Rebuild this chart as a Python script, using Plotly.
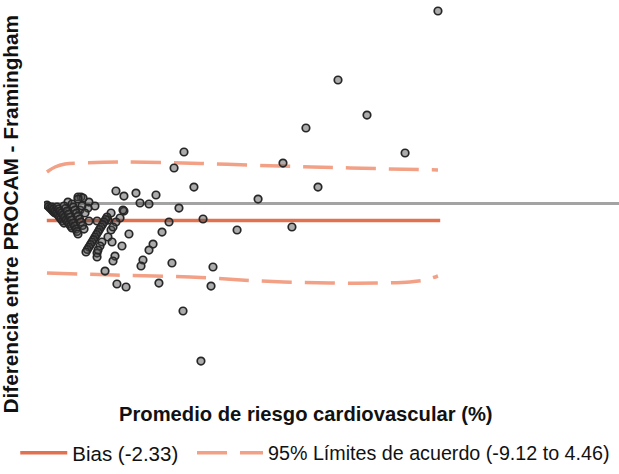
import plotly.graph_objects as go

# Scatter points: mean risk (%) vs difference PROCAM - Framingham
mean_risk = [
    28.14, 21.0, 23.07, 18.71, 25.79, 10.0, 9.29, 17.07, 10.71, 19.57,
    15.29, 9.64, 11.36, 13.79, 17.71, 8.93, 8.43, 9.14, 12.07, 11.93,
    8.21, 5.86, 5.21, 4.36, 5.14, 5.71, 6.57, 8.0, 6.86, 7.5,
    5.71, 5.43, 4.79, 3.79, 6.07, 5.57, 5.07, 4.93, 3.79, 7.79,
    7.5, 7.07, 6.93, 3.64, 3.21, 2.64, 1.71, 9.93, 11.21, 4.79,
    4.57, 4.86, 3.79, 2.43, 2.79, 3.14, 2.57, 4.57,
    0.21, 0.32, 0.43, 0.54, 0.64, 0.71, 0.79,
    0.57, 0.68, 0.79, 0.9, 1.0, 1.1, 1.21, 1.32, 1.43,
    0.93, 1.04, 1.14, 1.25, 1.36, 1.46, 1.57, 1.68, 1.79, 1.9, 2.0,
    1.43, 1.54, 1.64, 1.75, 1.86, 1.96, 2.07, 2.18, 2.29, 2.36, 2.43,
    2.0, 2.1, 2.21, 2.32, 2.43, 2.54, 2.64, 2.75, 2.86,
    2.43, 2.71, 2.93, 3.21,
    4.5, 4.4, 4.29, 4.18, 4.07, 3.96, 3.86, 3.75, 3.64, 3.54, 3.43, 3.32, 3.21, 3.1, 3.0,
    4.14, 4.0, 3.86,
    5.64, 5.14, 4.93,
]
difference = [
    25.6, 16.4, 11.73, 10.0, 6.67, 6.8, 4.67, 5.33, 2.13, 2.13,
    0.53, -0.67, -2.13, -3.6, -3.2, -2.53, -3.87, -8.0, -8.53, -11.07,
    -10.67, -11.2, -10.8, -9.07, 1.6, 0.93, 1.33, 1.07, 0.0, -0.13,
    -1.07, -2.0, -1.33, -2.4, -4.13, -5.73, -7.07, -7.73, -6.67, -5.47,
    -6.27, -7.6, -8.4, -0.4, 0.13, 0.8, 0.13, -14.4, -21.07, -3.6,
    -4.53, -5.2, -7.2, 0.8, 0.67, -0.67, -0.93, -2.27,
    -0.27, -0.47, -0.67, -0.87, -1.07, -1.2, -1.33,
    -0.53, -0.8, -1.07, -1.33, -1.6, -1.87, -2.13, -2.4, -2.67,
    -0.53, -0.8, -1.07, -1.33, -1.6, -1.93, -2.27, -2.53, -2.8, -3.07, -3.33,
    -0.4, -0.73, -1.07, -1.47, -1.87, -2.27, -2.67, -3.07, -3.47, -3.8, -4.13,
    -0.13, -0.53, -0.93, -1.33, -1.73, -2.13, -2.53, -3.0, -3.47,
    0.53, -0.4, -1.33, -2.4,
    -1.87, -2.2, -2.53, -2.87, -3.2, -3.53, -3.87, -4.2, -4.53, -4.87, -5.2, -5.53, -5.87, -6.2, -6.53,
    -5.2, -5.73, -6.27,
    -0.93, -2.53, -3.2,
]

# Bias line
bias_x = [0.2, 28.3]
bias_y = [-2.33, -2.33]

# Limits of agreement (as drawn, slightly curved)
upper_x = [0.21, 0.79, 1.5, 2.57, 5.43, 11.14, 16.86, 21.86, 28.14]
upper_y = [4.13, 4.8, 5.2, 5.33, 5.47, 5.27, 4.93, 4.67, 4.4]
lower_x = [0.21, 5.0, 10.43, 15.43, 20.43, 24.0, 26.14, 27.21, 28.14]
lower_y = [-9.33, -9.6, -9.87, -10.4, -10.67, -10.67, -10.53, -10.27, -9.73]

bias_label = "Bias (-2.33)"
loa_label = "95% Límites de acuerdo (-9.12 to 4.46)"
x_title = "Promedio de riesgo cardiovascular (%)"
y_title = "Diferencia entre PROCAM - Framingham"

BIAS_C = "#e2714f"
LOA_C = "#f2a186"
FONT = "Liberation Sans, Arial, sans-serif"

fig = go.Figure()
fig.add_trace(go.Scatter(
    x=bias_x, y=bias_y, mode="lines", name=bias_label, legend="legend",
    line=dict(color=BIAS_C, width=3.5),
))
fig.add_trace(go.Scatter(
    x=upper_x, y=upper_y, mode="lines", name=loa_label, legendgroup="loa",
    legend="legend2",
    line=dict(color=LOA_C, width=3.5, dash="30px,13px", shape="spline"),
))
fig.add_trace(go.Scatter(
    x=lower_x, y=lower_y, mode="lines", name=loa_label, legendgroup="loa",
    legend="legend2", showlegend=False,
    line=dict(color=LOA_C, width=3.5, dash="30px,13px", shape="spline"),
))
fig.add_trace(go.Scatter(
    x=mean_risk, y=difference, mode="markers", showlegend=False,
    marker=dict(size=7.5, color="rgba(70,70,70,0.45)",
                line=dict(color="#262626", width=1.7)),
))

fig.update_layout(
    width=619, height=474,
    margin=dict(l=44, r=0, t=0, b=94),
    paper_bgcolor="white", plot_bgcolor="white",
    font=dict(family=FONT, color="#111111"),
    xaxis=dict(range=[0, 41.07], showgrid=False, zeroline=False,
               showticklabels=False, showline=False, ticks=""),
    yaxis=dict(range=[-23.6, 27.067], showgrid=False, zeroline=True,
               zerolinecolor="#a3a3a3", zerolinewidth=2.5,
               showticklabels=False, showline=False, ticks=""),
    legend=dict(orientation="h", x=-0.05, xanchor="left", y=-0.192, yanchor="middle",
                font=dict(size=20.5, family=FONT, color="#111111"),
                itemwidth=47, bgcolor="rgba(0,0,0,0)"),
    legend2=dict(orientation="h", x=0.2574, xanchor="left", y=-0.192, yanchor="middle",
                 font=dict(size=19.7, family=FONT, color="#111111"),
                 itemwidth=66, bgcolor="rgba(0,0,0,0)"),
    annotations=[
        dict(text="<b>" + x_title + "</b>", xref="paper", yref="paper",
             x=0.4557, y=-0.0895, showarrow=False, xanchor="center", yanchor="middle",
             font=dict(size=20.2, family=FONT, color="#111111")),
        dict(text="<b>" + y_title + "</b>", xref="paper", yref="paper",
             x=-0.058, y=0.437, showarrow=False, textangle=-90,
             xanchor="center", yanchor="middle",
             font=dict(size=20.8, family=FONT, color="#111111")),
    ],
)

fig.write_html("out.html", config={"displayModeBar": False},
               post_script="document.body.style.margin='0px';")
